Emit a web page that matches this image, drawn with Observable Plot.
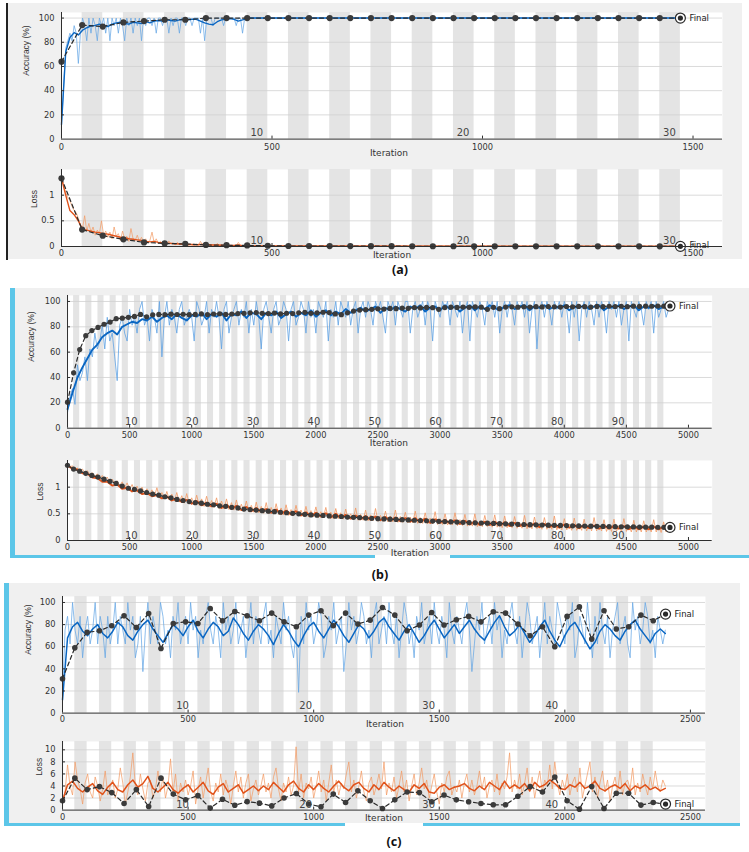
<!DOCTYPE html>
<html><head><meta charset="utf-8">
<script src="https://cdn.jsdelivr.net/npm/d3@7"></script>
<script src="https://cdn.jsdelivr.net/npm/@observablehq/plot@0.6"></script>
<style>
body{margin:0;background:#fff;}
#page{position:relative;width:749px;height:852px;overflow:hidden;background:#fff;}
.blk{position:absolute;}
.sub{position:absolute;left:0;}
.sub svg{overflow:visible;max-width:none;}
.cap{position:absolute;font:bold 12.5px "Noto Sans",sans-serif;color:#111;transform:translate(-50%,-50%);}
</style></head><body><div id="page"></div>
<script>
// ---------- shared ----------
const IPE = 49; // iterations per epoch
const accYTicks = [0, 20, 40, 60, 80, 100];
const lossYTicksAB = [0, 0.5, 1];
const cLossYTicks = [0, 2, 4, 6, 8, 10];

// ---------- panel (a) ----------
const aEpochs = 30;
const aXTicks = [0, 500, 1000, 1500];
const aEpochLabels = [10, 20, 30];
const aRawStep = 5, aSmoothStep = 10;
const aAccRaw = [12.5,43.75,75,81.25,87.5,81.25,93.75,87.5,62.5,87.5,
100,93.75,81.25,100,87.5,100,93.75,81.25,100,93.75,
100,87.5,100,81.25,100,93.75,100,87.5,100,93.75,
81.25,100,93.75,100,87.5,100,93.75,100,81.25,100,
93.75,100,100,93.75,100,87.5,100,100,93.75,100,
100,87.5,100,93.75,100,100,87.5,100,100,93.75,
100,100,93.75,100,100,100,87.5,100,81.25,100,
100,100,93.75,100,100,100,100,93.75,100,100,
100,100,100,93.75,100,100,87.5,100,100,100];
const aAccSmooth = [12,72,84,88,86,90,92,93.5,94,95,
94,93,95,96,96.5,95.5,95,96.5,96,95.5,
97,96,97.5,98,97.5,98.5,98,97.5,98.5,99,
98.5,99,99,97.5,96,95,94.5,97,98.5,99,
99.5,99,97.5,98.5,99.5,100];
const aAccEnd = 100;
const aAccVal = [64,94.2,93,96.4,97.5,98.6,98.6,100,100,100,100,100,100,100,100,100,100,100,100,100,100,100,100,100,100,100,100,100,100,100,100];
const aLossRaw = [1.35,1.2,1.05,0.95,0.9,0.78,0.7,0.66,0.55,0.42,
0.35,0.6,0.3,0.45,0.28,0.38,0.22,0.32,0.25,0.5,
0.22,0.3,0.18,0.28,0.15,0.38,0.2,0.25,0.12,0.3,
0.14,0.2,0.1,0.35,0.15,0.12,0.22,0.1,0.18,0.09,
0.15,0.07,0.12,0.28,0.08,0.15,0.06,0.1,0.05,0.09,
0.04,0.11,0.05,0.07,0.03,0.08,0.04,0.06,0.03,0.05,
0.02,0.04,0.03,0.02,0.05,0.02,0.1,0.03,0.07,0.02,
0.04,0.02,0.03,0.01,0.06,0.02,0.03,0.01,0.02,0.01,
0.02,0.01,0.02,0.01,0.08,0.02,0.01,0.03,0.01,0.01];
const aLossSmooth = [1.33,1.0,0.7,0.62,0.5,0.33,0.32,0.3,0.28,0.27,
0.25,0.24,0.22,0.2,0.18,0.17,0.15,0.14,0.13,0.12,
0.1,0.09,0.1,0.08,0.07,0.065,0.06,0.055,0.05,0.045,
0.04,0.038,0.035,0.04,0.04,0.035,0.03,0.028,0.025,0.022,
0.02,0.02,0.03,0.018,0.015,0.012];
const aLossEnd = 0.004;
const aLossVal = [1.33,0.33,0.21,0.14,0.08,0.06,0.05,0.03,0.025,0.02,0.015,0.01,0.01,0.008,0.008,0.006,0.006,0.005,0.005,0.005,0.005,0.004,0.004,0.004,0.004,0.004,0.004,0.003,0.003,0.003,0.003];

// ---------- panel (b) ----------
const bEpochs = 99;
const bXTicks = [0,500,1000,1500,2000,2500,3000,3500,4000,4500,5000];
const bEpochLabels = [10,20,30,40,50,60,70,80,90];
const bRawStep = 20, bSmoothStep = 40;
const bAccRaw = [12.5,25,31.25,18.75,50,37.5,43.75,56.25,37.5,62.5,
56.25,75,62.5,68.75,81.25,62.5,87.5,68.75,75,56.25,
37.5,81.25,87.5,75,68.75,93.75,81.25,87.5,75,93.75,
100,81.25,87.5,68.75,93.75,87.5,75,100,56.25,87.5,
100,81.25,93.75,87.5,75,93.75,100,81.25,87.5,93.75,
87.5,68.75,100,93.75,81.25,87.5,100,75,93.75,87.5,
100,87.5,62.5,93.75,100,75,87.5,93.75,100,81.25,
93.75,87.5,100,75,93.75,81.25,100,87.5,62.5,93.75,
100,87.5,75,93.75,100,81.25,87.5,100,93.75,68.75,
93.75,100,81.25,87.5,100,93.75,75,100,87.5,93.75,
75,100,93.75,87.5,100,68.75,93.75,87.5,100,81.25,
100,93.75,87.5,100,81.25,93.75,100,75,93.75,100,
87.5,100,93.75,81.25,100,93.75,100,87.5,75,100,
93.75,100,81.25,100,93.75,87.5,100,100,75,93.75,
100,87.5,93.75,100,81.25,100,93.75,68.75,100,93.75,
87.5,100,93.75,100,81.25,100,93.75,87.5,100,75,
93.75,100,68.75,100,93.75,87.5,100,93.75,81.25,100,
93.75,100,87.5,100,75,93.75,100,87.5,100,93.75,
81.25,100,93.75,100,87.5,100,75,93.75,100,62.5,
93.75,100,87.5,100,93.75,81.25,100,93.75,100,87.5,
100,93.75,75,100,87.5,100,68.75,93.75,100,87.5,
100,93.75,81.25,100,87.5,100,93.75,75,100,93.75,
100,87.5,100,81.25,93.75,100,68.75,100,93.75,87.5,
100,93.75,81.25,100,93.75,100,75,100,87.5,93.75,
100,87.5,93.75];
const bAccSmooth = [15,28,40,48,55,62,66,72,75,77,
74,80,82,84,83,86,85,88,84,87,
89,86,90,87,85,89,88,91,86,90,
88,91,85,90,89,92,87,91,90,86,
91,89,92,87,90,92,88,91,89,93,
88,91,93,89,92,90,94,91,93,95,
92,94,96,91,95,93,96,94,92,96,
94,97,92,95,96,93,97,94,96,92,
95,97,93,96,94,97,95,93,96,97,
94,96,97,93,96,95,97,94,96,95,
97,93,96,95,97,94,96,97,93,96,
95,97,94,96,97,93,96,95,97,94,
96,95];
const bAccVal = [20.5,43.7,62,73,77,79.5,82,83.7,86.4,86.8,
87.5,88.2,89.8,87.9,89.5,89.8,89.6,90,89.7,89.9,
89.6,89.8,90.2,89.7,90.1,90.3,89.8,90.1,90.4,90.6,
91,91.2,90.6,90.4,90.8,90.2,90.7,90.4,91.1,91.4,
90.6,91,91.5,91.2,90.2,89.6,91,92.4,93.2,93.5,
93.8,94.2,94,94.5,94.3,94.8,94.6,95.2,94.9,95.3,
95.1,93.8,95.2,95.5,95.3,95.6,95.4,95.7,95.5,93.8,
95.4,94.3,95.6,95.8,95.5,95.8,95.6,95.9,95.7,96,
95.8,95.6,96,95.8,96.1,95.9,95.6,96.1,95.9,96.2,
96,96.2,95.9,96.3,96.1,96.3,96.2,96.4,96.3,96.4];
const bLossRaw = [1.42,1.38,1.40,1.33,1.36,1.30,1.34,1.27,1.31,1.24,
1.27,1.20,1.25,1.16,1.22,1.13,1.19,1.09,1.15,1.07,
1.12,1.03,1.10,0.99,1.08,0.96,1.05,0.94,1.02,0.90,
1.00,0.88,0.97,0.85,0.95,0.83,0.99,0.81,0.90,0.78,
0.92,0.76,0.87,0.74,0.90,0.72,0.84,0.70,0.88,0.69,
0.80,0.67,0.85,0.66,0.78,0.64,0.83,0.63,0.75,0.62,
0.80,0.60,0.74,0.59,0.78,0.58,0.71,0.57,0.76,0.56,
0.68,0.55,0.74,0.54,0.66,0.53,0.72,0.52,0.64,0.51,
0.71,0.50,0.62,0.50,0.69,0.49,0.61,0.48,0.67,0.47,
0.58,0.46,0.66,0.46,0.57,0.45,0.64,0.44,0.56,0.44,
0.63,0.43,0.54,0.43,0.62,0.42,0.53,0.41,0.60,0.41,
0.52,0.40,0.59,0.40,0.50,0.39,0.61,0.38,0.49,0.38,
0.57,0.37,0.48,0.37,0.60,0.36,0.47,0.36,0.55,0.35,
0.46,0.35,0.57,0.34,0.45,0.34,0.53,0.33,0.44,0.33,
0.55,0.32,0.43,0.32,0.52,0.31,0.42,0.31,0.54,0.30,
0.41,0.30,0.50,0.29,0.40,0.29,0.52,0.28,0.39,0.28,
0.49,0.27,0.38,0.27,0.50,0.26,0.37,0.26,0.47,0.26,
0.36,0.25,0.48,0.25,0.35,0.24,0.46,0.24,0.35,0.24,
0.45,0.23,0.34,0.23,0.47,0.22,0.33,0.22,0.44,0.22,
0.33,0.21,0.43,0.21,0.32,0.21,0.46,0.20,0.32,0.20,
0.41,0.20,0.31,0.19,0.42,0.19,0.30,0.19,0.40,0.18,
0.30,0.18,0.43,0.18,0.29,0.18,0.39,0.17,0.29,0.17,
0.40,0.17,0.28,0.17,0.41,0.17,0.28,0.16,0.38,0.16,
0.28,0.16,0.37,0.16,0.27,0.16,0.39,0.16,0.27,0.15,
0.35,0.16,0.30];
const bLossSmooth = [1.41,1.34,1.33,1.26,1.25,1.18,1.17,1.10,1.10,1.03,
1.05,0.97,0.99,0.92,0.94,0.87,0.89,0.83,0.85,0.79,
0.82,0.75,0.79,0.72,0.76,0.69,0.74,0.66,0.71,0.64,
0.69,0.61,0.67,0.59,0.65,0.57,0.63,0.55,0.61,0.54,
0.59,0.52,0.58,0.50,0.56,0.49,0.55,0.47,0.53,0.46,
0.52,0.45,0.51,0.43,0.50,0.42,0.48,0.41,0.47,0.40,
0.46,0.39,0.45,0.38,0.44,0.37,0.43,0.36,0.42,0.35,
0.42,0.34,0.41,0.33,0.40,0.33,0.39,0.32,0.38,0.31,
0.37,0.30,0.36,0.29,0.35,0.29,0.35,0.28,0.34,0.27,
0.33,0.27,0.32,0.26,0.32,0.25,0.31,0.25,0.30,0.24,
0.30,0.24,0.29,0.23,0.29,0.23,0.28,0.22,0.28,0.22,
0.27,0.22,0.27,0.21,0.27,0.21,0.26,0.21,0.26,0.21,
0.26,0.22];
const bLossVal = [1.41,1.34,1.30,1.26,1.22,1.19,1.15,1.11,1.07,1.02,
0.98,0.96,0.93,0.90,0.87,0.85,0.82,0.80,0.77,0.75,
0.73,0.71,0.70,0.68,0.67,0.65,0.64,0.62,0.61,0.59,
0.58,0.57,0.56,0.55,0.54,0.53,0.52,0.51,0.50,0.49,
0.48,0.475,0.47,0.46,0.455,0.45,0.44,0.435,0.43,0.42,
0.415,0.41,0.405,0.40,0.395,0.39,0.385,0.38,0.375,0.37,
0.365,0.36,0.355,0.35,0.345,0.34,0.336,0.332,0.328,0.324,
0.32,0.316,0.312,0.308,0.304,0.30,0.297,0.294,0.291,0.288,
0.285,0.282,0.279,0.276,0.273,0.27,0.268,0.266,0.264,0.262,
0.26,0.258,0.256,0.254,0.252,0.25,0.249,0.248,0.247,0.246];

// ---------- panel (c) ----------
const cEpochs = 49;
const cXTicks = [0,500,1000,1500,2000,2500];
const cEpochLabels = [10,20,30,40];
const cRawStep = 10, cSmoothStep = 20;
const cAccRaw = [12.5,75,87.5,62.5,100,75,62.5,87.5,50,75,
87.5,62.5,75,100,62.5,87.5,75,50,87.5,62.5,
75,100,62.5,87.5,75,62.5,100,75,87.5,50,
62.5,87.5,37.5,75,100,62.5,87.5,75,62.5,100,
87.5,62.5,75,50,87.5,75,100,62.5,75,87.5,
62.5,100,75,87.5,50,75,62.5,87.5,100,75,
62.5,87.5,75,50,100,75,87.5,62.5,75,100,
62.5,75,87.5,50,75,100,62.5,87.5,75,62.5,
87.5,100,62.5,75,50,87.5,75,62.5,100,75,
87.5,62.5,50,75,18.75,87.5,62.5,100,75,87.5,
62.5,75,100,87.5,50,62.5,87.5,75,100,62.5,
75,87.5,37.5,62.5,100,75,87.5,62.5,75,100,
87.5,62.5,75,50,87.5,100,62.5,75,87.5,62.5,
100,75,62.5,87.5,50,75,100,87.5,62.5,75,
50,87.5,75,100,62.5,75,87.5,62.5,100,75,
62.5,87.5,75,50,100,75,62.5,87.5,75,62.5,
87.5,100,75,37.5,62.5,87.5,75,100,62.5,75,
87.5,62.5,100,75,87.5,50,75,62.5,87.5,100,
75,62.5,87.5,50,75,100,87.5,62.5,75,87.5,
50,75,100,62.5,87.5,75,62.5,100,87.5,75,
62.5,87.5,75,100,50,62.5,87.5,75,62.5,100,
75,50,87.5,62.5,100,75,62.5,87.5,50,75,
87.5,100,62.5,75,87.5,62.5,50,100,75,87.5,
62.5,75,100,87.5,62.5,75,50,87.5,75,62.5,
75];
const cAccSmooth = [12,68,78,82,74,70,76,80,72,68,
74,82,78,70,66,74,80,84,76,70,
64,72,80,76,70,78,84,74,68,76,
82,78,70,74,86,80,72,66,74,80,
76,70,62,72,80,74,66,60,70,78,
82,74,68,76,84,78,70,64,72,80,
76,68,74,82,86,78,72,66,74,80,
72,64,70,78,84,76,68,74,80,72,
78,84,76,70,66,74,82,88,78,70,
74,80,72,64,70,78,84,74,66,60,
70,78,82,74,66,58,64,74,80,76,
70,66,74,80,84,76,70,64,72,76,
72];
const cAccVal = [31,59,73,74.4,79,88,77.4,90,58.4,81,
82.5,81,94.6,83.5,91.9,88,83.5,90.4,82.5,78,
88.6,92.5,79,90.4,80.5,84,95.5,88.6,74.4,79.6,
91,79.6,84.4,87.4,82.5,91.6,90.4,80.5,69.9,78,
60,87.4,96,66.9,92.5,76,78,88.6,83.5,89.5];
const cLossRaw = [1.5,3.0,7.5,4.0,2.5,8.0,5.0,3.5,1.0,4.5,
6.0,3.0,2.0,5.5,4.0,1.5,3.5,6.5,2.5,4.0,
5.0,2.0,3.5,7.0,4.5,1.0,3.0,5.5,9.5,4.0,
2.5,6.0,3.5,1.5,4.5,5.0,2.0,3.5,6.5,3.0,
5.5,2.0,4.0,8.5,3.0,6.0,1.5,4.5,3.0,5.0,
2.5,4.0,6.5,1.0,3.5,5.5,2.0,4.5,7.0,3.0,
1.5,4.5,3.0,6.0,2.5,5.0,3.5,1.0,4.0,6.5,
3.0,5.5,2.0,4.5,6.0,1.5,3.5,5.0,2.5,4.0,
6.0,3.0,4.5,2.0,5.5,7.0,3.5,1.5,4.5,3.0,
5.5,2.5,4.0,10.5,3.0,6.0,2.0,4.5,3.5,5.5,
2.0,4.0,6.5,3.0,5.0,1.5,4.5,7.5,3.0,5.0,
2.5,4.5,3.5,6.0,8.0,3.0,5.0,2.0,4.0,6.5,
3.0,1.5,4.5,5.5,2.5,4.0,6.0,3.5,8.0,2.5,
4.5,3.0,5.5,2.0,4.0,6.5,3.0,5.0,1.5,4.0,
6.0,2.5,4.5,7.0,3.5,5.0,2.0,4.0,6.0,3.0,
1.0,4.5,3.0,5.5,6.5,2.5,4.0,3.0,5.0,2.0,
4.5,6.0,3.0,5.0,2.5,4.0,6.5,3.5,5.5,2.0,
4.0,5.0,3.0,6.0,2.5,4.5,3.5,5.5,9.5,3.0,
5.0,3.5,6.0,2.5,4.5,7.0,3.0,5.5,2.0,4.5,
6.5,3.0,5.0,4.0,7.5,3.5,8.0,4.5,2.5,5.0,
3.5,6.0,2.5,4.5,5.5,3.0,7.0,2.0,4.0,6.0,
8.0,3.0,5.5,2.0,4.5,6.5,3.0,5.0,1.5,4.0,
5.5,3.0,6.5,2.5,4.5,5.0,3.5,7.0,2.5,4.5,
3.0,6.0,4.0,2.5,5.5,3.5,6.5,4.0,3.0,5.0,
4.0];
const cLossSmooth = [1.5,4.2,4.8,3.6,3.0,3.8,4.4,3.2,2.6,3.8,
4.6,3.4,3.0,4.2,5.0,3.8,4.4,5.6,3.6,3.0,
3.8,4.6,3.4,2.8,3.6,4.2,3.0,3.8,4.6,3.2,
2.6,3.8,4.4,3.0,3.6,4.2,2.8,3.4,4.0,3.2,
4.0,3.4,4.6,3.8,3.0,4.2,4.8,3.6,3.0,4.2,
3.4,4.4,3.6,3.0,4.0,4.8,3.8,3.2,4.2,4.6,
3.6,3.0,4.2,3.4,4.6,3.8,3.2,4.0,3.4,3.0,
4.2,3.6,4.4,3.0,2.8,3.8,4.2,3.4,3.8,4.0,
4.4,3.6,3.2,4.0,3.4,4.6,4.0,3.4,4.8,3.6,
4.2,3.6,4.4,3.2,4.6,3.8,4.2,5.0,4.4,3.6,
3.4,4.2,3.8,4.6,3.6,4.0,4.8,3.6,3.2,3.8,
4.2,3.6,4.4,3.2,4.0,3.6,4.2,3.4,3.8,3.2,
3.6];
const cLossVal = [1.54,5.3,3.4,3.9,2.9,1.1,3.4,0.6,5.3,2.65,
1.7,2.4,0.33,1.8,0.8,1.4,1.15,0.7,2.0,2.75,
1.0,0.55,2.65,1.26,3.2,1.54,0.27,1.7,3.0,2.9,
1.38,2.5,1.7,1.38,1.1,0.88,0.88,2.3,3.9,3.0,
5.5,1.54,0.16,3.9,0.27,2.8,2.8,0.83,1.26,1.0];

// ---------- helpers ----------
const ACC_RAW = "#62a4e4", ACC_SM = "#0a66c2", LOSS_RAW = "#f39a64", LOSS_SM = "#e0521a";
const stepSeries = (vals, step) => vals.map((v, i) => ({x: i * step, y: v}));
const valSeries = (vals) => vals.map((v, i) => ({x: i * IPE, y: v}));
const page = document.getElementById("page");

function block(left, top, width, height, color) {
  const d = document.createElement("div");
  d.className = "blk";
  Object.assign(d.style, {left: left + "px", top: top + "px", width: width + "px", height: height + "px", background: color});
  page.appendChild(d);
}

function makeSub(c) {
  const mt = 10, mb = 30;
  const H = c.y1 - c.y0;
  const yr = c.yDomain[1] - c.yDomain[0];
  const xr = c.xDomain[1] - c.xDomain[0];
  const tyl = 3 * yr / H;
  const txl = 3 * xr / (c.x1 - c.x0);
  const bands = [];
  for (let e = 2; e <= c.epochs; e += 2) bands.push({a: (e - 1) * IPE, b: e * IPE});
  const last = c.val[c.val.length - 1];
  const plot = Plot.plot({
    width: 749,
    height: H + mt + mb,
    marginLeft: c.x0, marginRight: 749 - c.x1, marginTop: mt, marginBottom: mb,
    style: "background: transparent; overflow: visible; font-family: 'DejaVu Sans', sans-serif; font-size: 8.3px; color: #333;",
    x: {domain: c.xDomain, ticks: c.xTicks, tickSize: 0, tickPadding: c.xPad, tickFormat: d => String(d), label: null},
    y: {domain: c.yDomain, ticks: c.yTicks, tickSize: 0, tickPadding: 7, tickFormat: d => String(d), label: null},
    marks: [
      Plot.frame({fill: "white", stroke: null}),
      Plot.rect(bands, {x1: "a", x2: "b", fill: "#e4e4e4"}),
      Plot.ruleY(c.yTicks.filter(t => t > c.yDomain[0]), {stroke: "#d0d0d0", strokeWidth: 0.8}),
      Plot.line(c.raw, {x: "x", y: "y", stroke: c.rawColor, strokeWidth: c.rawW, strokeOpacity: 0.9}),
      Plot.line(c.smooth, {x: "x", y: "y", stroke: c.smColor, strokeWidth: c.smW}),
      Plot.line(c.val, {x: "x", y: "y", stroke: "#2a2a2a", strokeWidth: 1.2, strokeDasharray: "4,3"}),
      Plot.dot(c.val.slice(0, -1), {x: "x", y: "y", r: c.dotR, fill: "#3b3b3b"}),
      Plot.dot([last], {x: "x", y: "y", r: 5, fill: "white", stroke: "#2a2a2a", strokeWidth: 1.2}),
      Plot.dot([last], {x: "x", y: "y", r: 2.6, fill: "#2a2a2a"}),
      Plot.text([last], {x: "x", y: "y", text: () => "Final", dx: 9, dy: c.finDy || 0, textAnchor: "start", fontSize: 8.5, fill: "#222", letterSpacing: "0.4px"}),
      Plot.ruleY([c.yDomain[0]], {stroke: "#2e2e2e"}),
      Plot.ruleX([c.xDomain[0]], {stroke: "#2e2e2e"}),
      Plot.ruleX(c.xTicks.filter(t => t > 0), {y1: c.yDomain[0], y2: c.yDomain[0] + tyl, stroke: "#2e2e2e"}),
      Plot.ruleY(c.yTicks.filter(t => t > c.yDomain[0]), {x1: c.xDomain[0], x2: c.xDomain[0] + txl, stroke: "#2e2e2e"}),
      Plot.text(c.epochLabels, {x: d => d * IPE, y: c.yDomain[0], text: d => String(d), dx: c.epDx, dy: c.epDy, fontSize: 10, fill: "#444"}),
      Plot.text(["Iteration"], {frameAnchor: "bottom", text: d => d, dx: c.itDx, dy: c.itDy, fontSize: 9, fill: "#333"}),
      Plot.text([c.ylabel], {frameAnchor: "left", text: d => d, rotate: -90, dx: c.ylDx, fontSize: 8.5, fill: "#333", fontFamily: "'Liberation Sans', sans-serif"})
    ]
  });
  const wrap = document.createElement("div");
  wrap.className = "sub";
  wrap.style.top = (c.y0 - mt) + "px";
  wrap.appendChild(plot);
  page.appendChild(wrap);
}

function cap(text, x, y) {
  const d = document.createElement("div");
  d.className = "cap";
  d.textContent = text;
  d.style.left = x + "px";
  d.style.top = y + "px";
  page.appendChild(d);
}

// ---------- backgrounds ----------
block(6, 3, 2, 257, "#222");
block(8, 3, 734, 256, "#f0f0f0");
block(10, 288, 5, 270, "#5cc6e8");
block(15, 288, 734, 267, "#f0f0f0");
block(10, 555, 365, 3, "#5cc6e8");
block(450, 555, 299, 3, "#5cc6e8");
block(4, 583, 5, 243, "#5cc6e8");
block(9, 583, 731, 240, "#f0f0f0");
block(4, 823, 341, 3, "#5cc6e8");
block(423, 823, 317, 3, "#5cc6e8");

// ---------- panels ----------
const aEnd = aEpochs * IPE;
makeSub({x0: 61, x1: 722, y0: 11.7, y1: 138.3, xDomain: [0, 1570], yDomain: [0, 104.6], xTicks: aXTicks, yTicks: accYTicks, xPad: 4.5,
  epochs: aEpochs, epochLabels: aEpochLabels, epDx: -11, epDy: -6.5, itDx: -3, itDy: 16.5, ylabel: "Accuracy (%)", ylDx: -35, dotR: 3.1,
  raw: stepSeries(aAccRaw, aRawStep).concat([{x: aEnd, y: aAccEnd}]), smooth: stepSeries(aAccSmooth, aSmoothStep).concat([{x: aEnd, y: aAccEnd}]),
  val: valSeries(aAccVal), rawColor: ACC_RAW, smColor: ACC_SM, rawW: 0.8, smW: 1.4});
makeSub({x0: 61, x1: 722, y0: 169, y1: 246, xDomain: [0, 1570], yDomain: [0, 1.5], xTicks: aXTicks, yTicks: lossYTicksAB, xPad: 4,
  epochs: aEpochs, epochLabels: aEpochLabels, epDx: -11, epDy: -6, itDx: 0, itDy: 11, ylabel: "Loss", ylDx: -27, dotR: 3.1, finDy: -1.5,
  raw: stepSeries(aLossRaw, aRawStep).concat([{x: aEnd, y: aLossEnd}]), smooth: stepSeries(aLossSmooth, aSmoothStep).concat([{x: aEnd, y: aLossEnd}]),
  val: valSeries(aLossVal), rawColor: LOSS_RAW, smColor: LOSS_SM, rawW: 0.8, smW: 1.4});
makeSub({x0: 67, x1: 711.7, y0: 295, y1: 427.7, xDomain: [0, 5191], yDomain: [0, 104.7], xTicks: bXTicks, yTicks: accYTicks, xPad: 4,
  epochs: bEpochs, epochLabels: bEpochLabels, epDx: 3, epDy: -6, itDx: -1, itDy: 18.3, ylabel: "Accuracy (%)", ylDx: -36, dotR: 2.6,
  raw: stepSeries(bAccRaw, bRawStep), smooth: stepSeries(bAccSmooth, bSmoothStep),
  val: valSeries(bAccVal), rawColor: ACC_RAW, smColor: ACC_SM, rawW: 0.9, smW: 1.9});
makeSub({x0: 67, x1: 711.7, y0: 460, y1: 540, xDomain: [0, 5191], yDomain: [0, 1.5], xTicks: bXTicks, yTicks: lossYTicksAB, xPad: 4,
  epochs: bEpochs, epochLabels: bEpochLabels, epDx: 3, epDy: -5, itDx: 20, itDy: 15, ylabel: "Loss", ylDx: -27, dotR: 2.6,
  raw: stepSeries(bLossRaw, bRawStep), smooth: stepSeries(bLossSmooth, bSmoothStep),
  val: valSeries(bLossVal), rawColor: LOSS_RAW, smColor: LOSS_SM, rawW: 0.9, smW: 1.9});
makeSub({x0: 62, x1: 705, y0: 595.7, y1: 712.3, xDomain: [0, 2560], yDomain: [0, 105.4], xTicks: cXTicks, yTicks: accYTicks, xPad: 3,
  epochs: cEpochs, epochLabels: cEpochLabels, epDx: -3, epDy: -7, itDx: 1, itDy: 14, ylabel: "Accuracy (%)", ylDx: -34.5, dotR: 2.8,
  raw: stepSeries(cAccRaw, cRawStep), smooth: stepSeries(cAccSmooth, cSmoothStep),
  val: valSeries(cAccVal), rawColor: ACC_RAW, smColor: ACC_SM, rawW: 0.8, smW: 1.5});
makeSub({x0: 62, x1: 705, y0: 740.7, y1: 809.3, xDomain: [0, 2560], yDomain: [0, 11.38], xTicks: cXTicks, yTicks: cLossYTicks, xPad: 4,
  epochs: cEpochs, epochLabels: cEpochLabels, epDx: -3, epDy: -5, itDx: 0, itDy: 11, ylabel: "Loss", ylDx: -23, dotR: 2.8,
  raw: stepSeries(cLossRaw, cRawStep), smooth: stepSeries(cLossSmooth, cSmoothStep),
  val: valSeries(cLossVal), rawColor: LOSS_RAW, smColor: LOSS_SM, rawW: 0.8, smW: 1.5});

// ---------- captions ----------
cap("(a)", 400, 269);
cap("(b)", 380, 574);
cap("(c)", 394, 841);
</script></body></html>
